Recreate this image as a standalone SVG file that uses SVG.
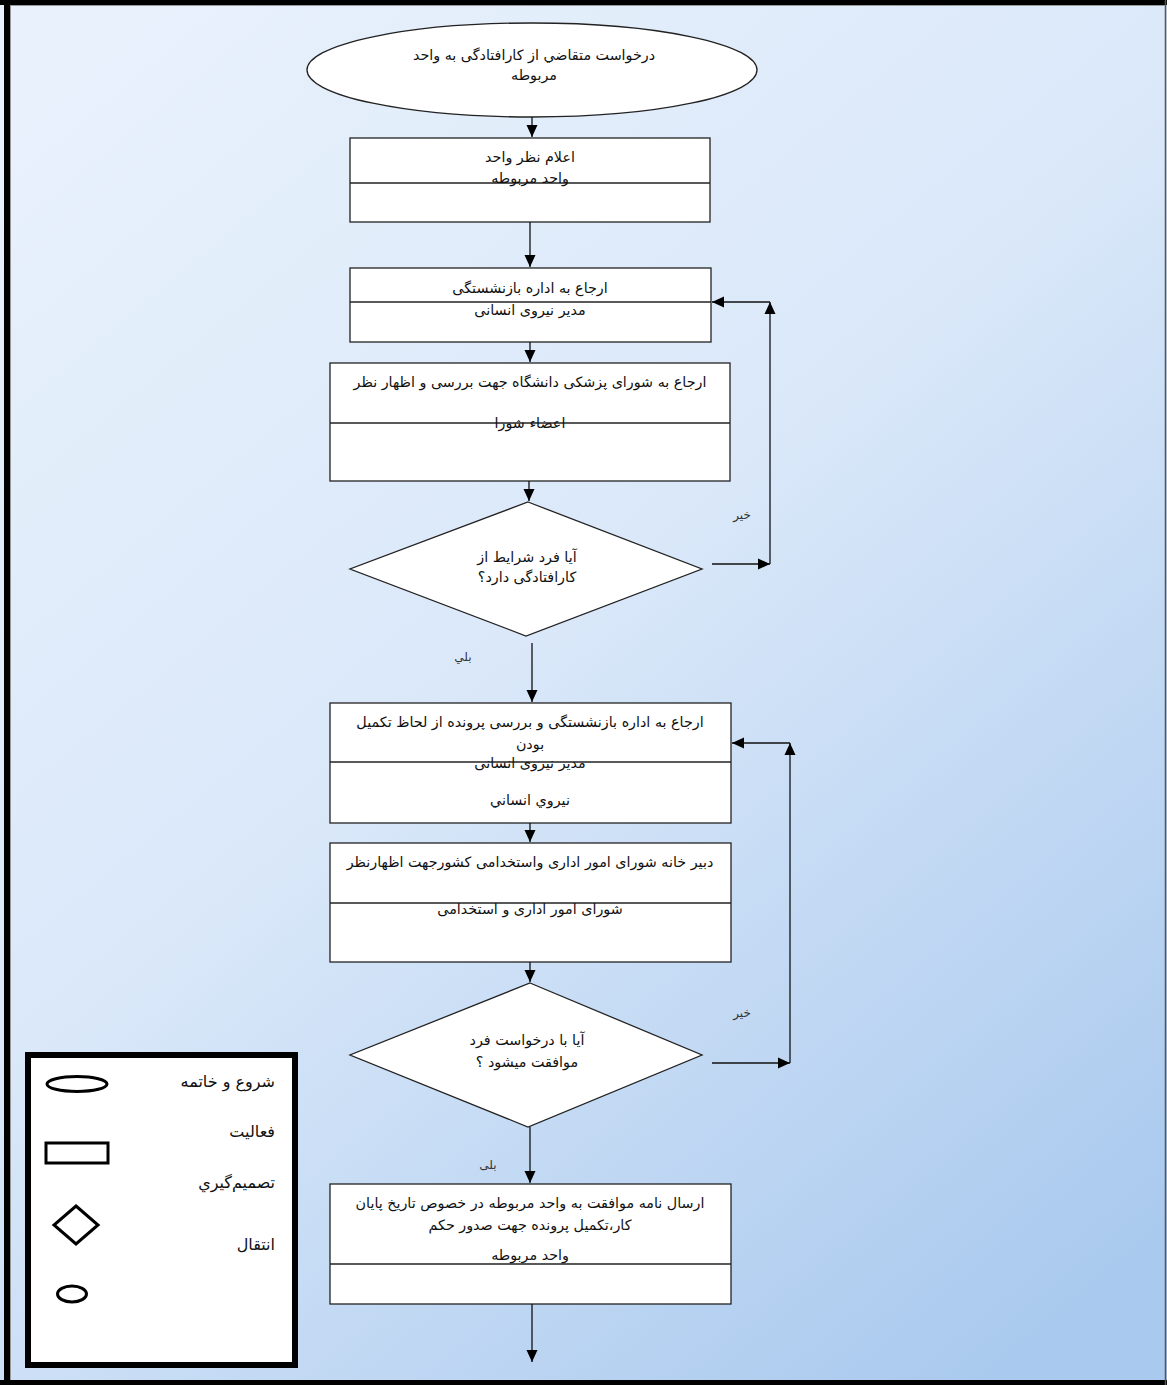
<svg xmlns="http://www.w3.org/2000/svg" width="1167" height="1385" viewBox="0 0 1167 1385">
<defs>
<linearGradient id="bg" x1="0.15" y1="0" x2="0.85" y2="1">
<stop offset="0" stop-color="#E8F1FC"/>
<stop offset="0.45" stop-color="#DAE8F9"/>
<stop offset="1" stop-color="#A9C9EE"/>
</linearGradient>
<marker id="ah" viewBox="0 0 12 12" refX="12" refY="6" markerWidth="12" markerHeight="12" markerUnits="userSpaceOnUse" orient="auto">
<path d="M0,0.5 L12,6 L0,11.5 z" fill="#000"/>
</marker>
</defs>
<style>
.node{fill:#fff;stroke:#222;stroke-width:1.3}
.div{stroke:#222;stroke-width:1.3}
.t{font-family:"DejaVu Sans","Liberation Sans",sans-serif;font-size:14.3px;fill:#111;text-anchor:middle;direction:rtl}
.lbl{font-family:"DejaVu Sans","Liberation Sans",sans-serif;font-size:12px;fill:#333;text-anchor:middle;direction:rtl}
.lg{font-family:"DejaVu Sans","Liberation Sans",sans-serif;font-size:16px;fill:#111;text-anchor:start;direction:rtl}
.c{fill:none;stroke:#111;stroke-width:1.3}
.ls{fill:none;stroke:#000;stroke-width:3}
</style>
<rect x="0" y="0" width="1167" height="1385" fill="url(#bg)"/>
<rect x="0" y="0" width="1167" height="5" fill="#000"/>
<rect x="4" y="0" width="6" height="1385" fill="#000"/>
<rect x="0" y="1380" width="1167" height="5" fill="#000"/>
<line x1="1165.5" y1="0" x2="1165.5" y2="1385" stroke="#555" stroke-width="1.5"/>
<line x1="10.5" y1="5" x2="10.5" y2="1380" stroke="#999" stroke-width="1"/>
<line x1="10" y1="5.5" x2="1165" y2="5.5" stroke="#999" stroke-width="1"/>

<g id="start">
<ellipse class="node" cx="532" cy="70" rx="225" ry="47"/>
<text class="t" x="534" y="60">درخواست متقاضي از كارافتادگی به واحد</text>
<text class="t" x="534" y="80">مربوطه</text>
</g>

<g id="box1">
<rect class="node" x="350" y="138" width="360" height="84"/>
<line class="div" x1="350" y1="183" x2="710" y2="183"/>
<text class="t" x="530" y="162">اعلام نظر واحد</text>
<text class="t" x="530" y="183">واحد مربوطه</text>
</g>

<g id="box2">
<rect class="node" x="350" y="268" width="361" height="74"/>
<line class="div" x1="350" y1="302" x2="711" y2="302"/>
<text class="t" x="530" y="293">ارجاع به اداره بازنشستگی</text>
<text class="t" x="530" y="315">مدیر نیروی انسانی</text>
</g>

<g id="box3">
<rect class="node" x="330" y="363" width="400" height="118"/>
<line class="div" x1="330" y1="423" x2="730" y2="423"/>
<text class="t" x="530" y="387">ارجاع به شورای پزشکی دانشگاه جهت بررسی و اظهار نظر</text>
<text class="t" x="530" y="428">اعضاء شورا</text>
</g>

<g id="dec1">
<polygon class="node" points="528,502 702,569 526,636 350,569"/>
<text class="t" x="527" y="562">آیا فرد شرایط از</text>
<text class="t" x="527" y="582">کارافتادگی دارد؟</text>
</g>

<g id="box4">
<rect class="node" x="330" y="703" width="401" height="120"/>
<line class="div" x1="330" y1="762" x2="731" y2="762"/>
<text class="t" x="530" y="727">ارجاع به اداره بازنشستگی و بررسی پرونده از لحاظ تکمیل</text>
<text class="t" x="530" y="749">بودن</text>
<text class="t" x="530" y="768">مدیر نیروی انسانی</text>
<text class="t" x="530" y="805">نيروي انساني</text>
</g>

<g id="box5">
<rect class="node" x="330" y="843" width="401" height="119"/>
<line class="div" x1="330" y1="903" x2="731" y2="903"/>
<text class="t" x="530" y="867">دبير خانه شورای امور اداری واستخدامی کشورجهت اظهارنظر</text>
<text class="t" x="530" y="914">شورای امور اداری و استخدامی</text>
</g>

<g id="dec2">
<polygon class="node" points="530,983 702,1055 528,1127 350,1055"/>
<text class="t" x="527" y="1045">آیا با درخواست فرد</text>
<text class="t" x="527" y="1067">موافقت میشود ؟</text>
</g>

<g id="box6">
<rect class="node" x="330" y="1184" width="401" height="120"/>
<line class="div" x1="330" y1="1264" x2="731" y2="1264"/>
<text class="t" x="530" y="1208">ارسال نامه موافقت به واحد مربوطه در خصوص تاريخ پايان</text>
<text class="t" x="530" y="1230">کار،تکمیل پرونده جهت صدور حکم</text>
<text class="t" x="530" y="1260">واحد مربوطه</text>
</g>

<g id="connectors">
<line class="c" x1="532" y1="117" x2="532" y2="137" marker-end="url(#ah)"/>
<line class="c" x1="530" y1="222" x2="530" y2="267" marker-end="url(#ah)"/>
<line class="c" x1="530" y1="342" x2="530" y2="362" marker-end="url(#ah)"/>
<line class="c" x1="529" y1="481" x2="529" y2="501" marker-end="url(#ah)"/>
<line class="c" x1="712" y1="564" x2="770" y2="564" marker-end="url(#ah)"/>
<line class="c" x1="770" y1="564" x2="770" y2="302" marker-end="url(#ah)"/>
<line class="c" x1="770" y1="302" x2="712" y2="302" marker-end="url(#ah)"/>
<line class="c" x1="532" y1="643" x2="532" y2="702" marker-end="url(#ah)"/>
<line class="c" x1="530" y1="823" x2="530" y2="842" marker-end="url(#ah)"/>
<line class="c" x1="530" y1="962" x2="530" y2="982" marker-end="url(#ah)"/>
<line class="c" x1="712" y1="1063" x2="790" y2="1063" marker-end="url(#ah)"/>
<line class="c" x1="790" y1="1063" x2="790" y2="743" marker-end="url(#ah)"/>
<line class="c" x1="790" y1="743" x2="732" y2="743" marker-end="url(#ah)"/>
<line class="c" x1="530" y1="1127" x2="530" y2="1183" marker-end="url(#ah)"/>
<line class="c" x1="532" y1="1304" x2="532" y2="1362" marker-end="url(#ah)"/>
<text class="lbl" x="742" y="519">خير</text>
<text class="lbl" x="463" y="661">بلي</text>
<text class="lbl" x="742" y="1017">خير</text>
<text class="lbl" x="488" y="1169">بلی</text>
</g>

<g id="legend">
<rect x="28" y="1055" width="267" height="310" fill="#fff" stroke="#000" stroke-width="6"/>
<ellipse class="ls" cx="77" cy="1084" rx="30" ry="7.5"/>
<rect class="ls" x="46" y="1143" width="62" height="20"/>
<polygon class="ls" points="76,1206 98,1225 76,1244 54,1225"/>
<ellipse class="ls" cx="72" cy="1294" rx="14.5" ry="8"/>
<text class="lg" x="275" y="1087">شروع و خاتمه</text>
<text class="lg" x="275" y="1137">فعاليت</text>
<text class="lg" x="275" y="1188">تصمیم‌گیري</text>
<text class="lg" x="275" y="1250">انتقال</text>
</g>
</svg>
